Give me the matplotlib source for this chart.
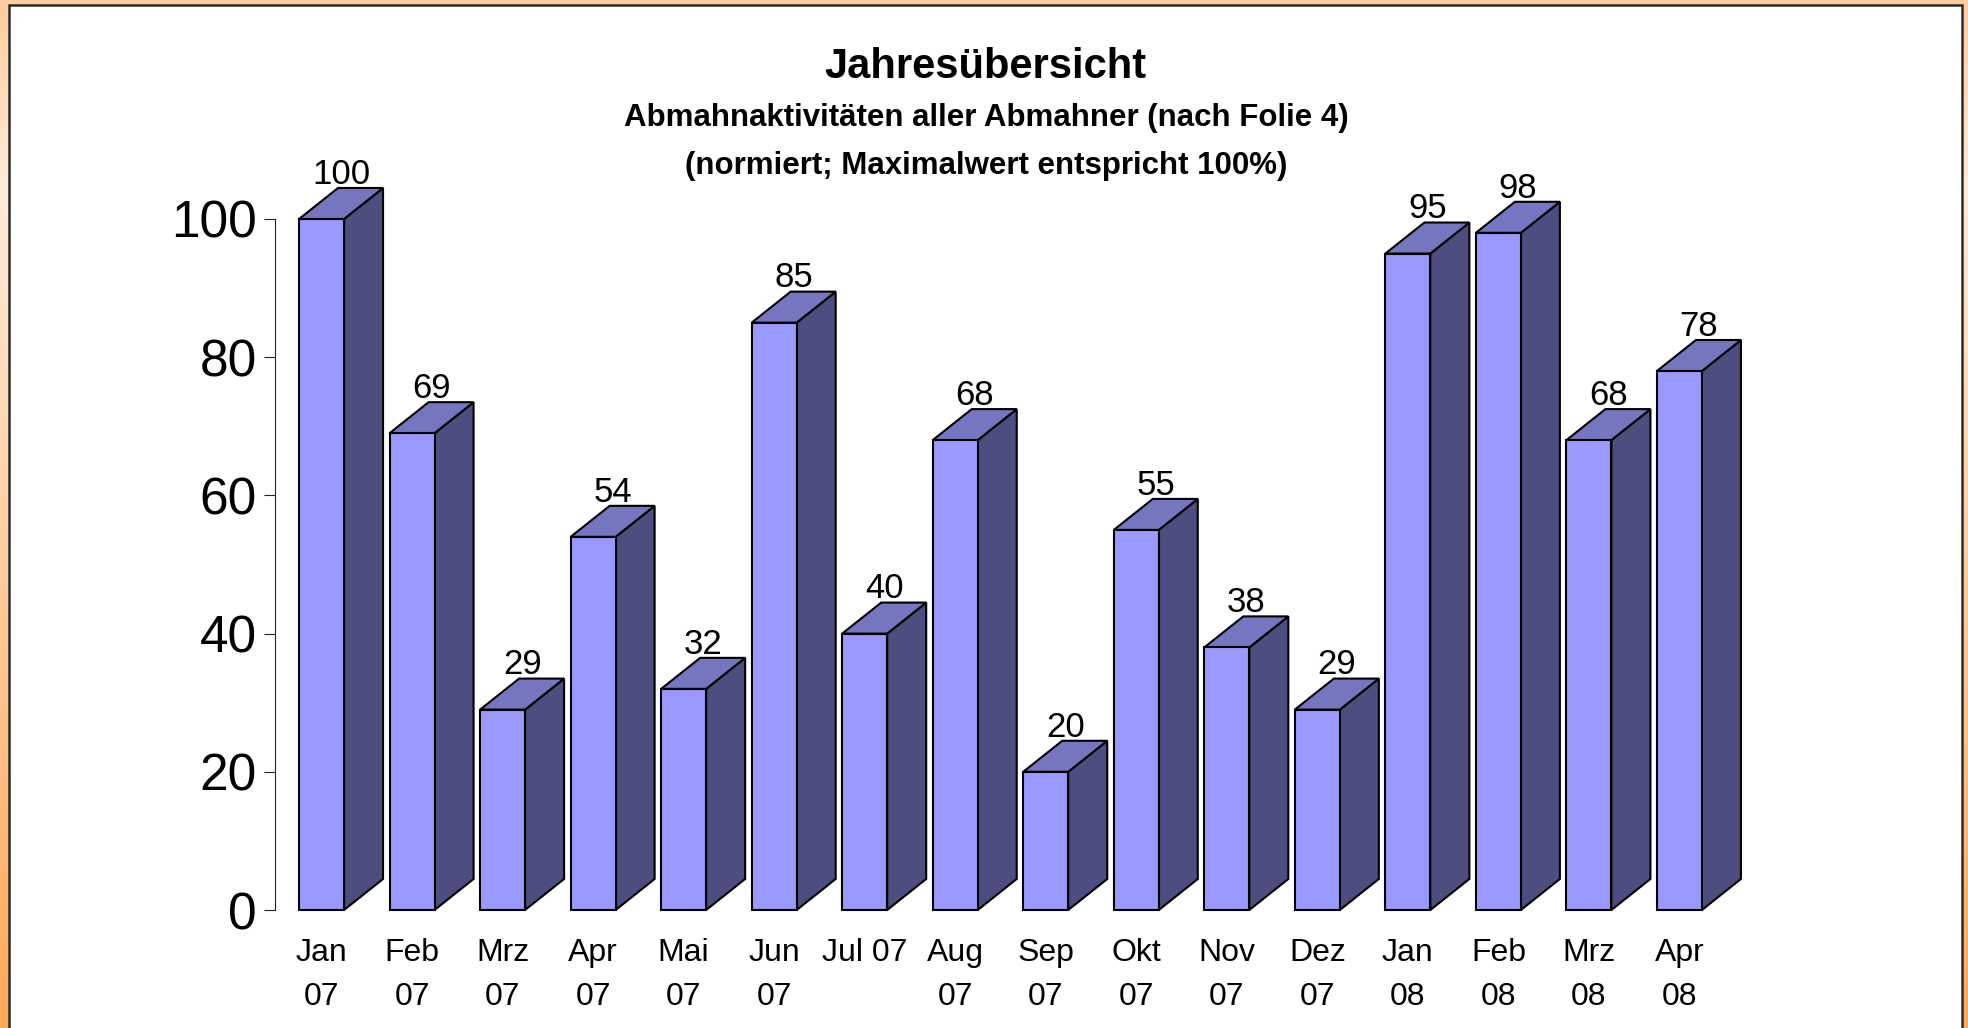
import matplotlib
matplotlib.use("Agg")
import matplotlib.pyplot as plt
import numpy as np
from matplotlib.patches import Polygon, Rectangle

plt.rcParams['font.family'] = ['Liberation Sans', 'DejaVu Sans']

categories = ["Jan\n07", "Feb\n07", "Mrz\n07", "Apr\n07", "Mai\n07", "Jun\n07", "Jul 07",
              "Aug\n07", "Sep\n07", "Okt\n07", "Nov\n07", "Dez\n07", "Jan\n08", "Feb\n08",
              "Mrz\n08", "Apr\n08"]
values = [100, 69, 29, 54, 32, 85, 40, 68, 20, 55, 38, 29, 95, 98, 68, 78]
yticks = [0, 20, 40, 60, 80, 100]

title = "Jahresübersicht"
subtitle = "Abmahnaktivitäten aller Abmahner (nach Folie 4)\n(normiert; Maximalwert entspricht 100%)"

W, H = 1968, 1028
fig = plt.figure(figsize=(W / 100, H / 100), dpi=100)

# background gradient border
bg = fig.add_axes([0, 0, 1, 1])
ys = np.linspace(0, 1, 200)
c_top = np.array([1.0, 0.80, 0.62])
c_light = np.array([1.0, 0.92, 0.85])
c_bot = np.array([1.0, 0.66, 0.35])
grad = np.zeros((200, 1, 3))
for k, t in enumerate(ys):
    if t < 0.18:
        s = t / 0.18
        col = c_top * (1 - s) + c_light * s
    else:
        s = (t - 0.18) / 0.82
        col = c_light * (1 - s) + c_bot * s
    grad[k, 0] = col
bg.imshow(grad, aspect='auto', extent=[0, 1, 1, 0])
bg.set_xlim(0, 1)
bg.set_ylim(1, 0)
bg.axis('off')
panel = Rectangle((9 / W, -0.1), (1962 - 9) / W, 1.1 - 5 / H, transform=bg.transAxes,
                  facecolor='white', edgecolor='#2b2b2b', linewidth=1.8)
bg.add_patch(panel)

# main axes
x0, x1 = 275, 1760
y0, y1 = 910, 219
ax = fig.add_axes([x0 / W, (H - y0) / H, (x1 - x0) / W, (y0 - y1) / H])
ax.set_facecolor('none')
ax.set_ylim(0, 100)
ax.set_xlim(-0.514, 15.89)

w = 0.497
dx = 0.431
dy = 4.49
front_c = '#9999FF'
top_c = '#7575C0'
side_c = '#4D4D80'
lw = 1.5

for i, v in enumerate(values):
    xl, xr = i - w / 2, i + w / 2
    side = Polygon([(xr, 0), (xr + dx, dy), (xr + dx, v + dy), (xr, v)], closed=True,
                   facecolor=side_c, edgecolor='black', linewidth=lw, clip_on=False, zorder=2)
    top = Polygon([(xl, v), (xl + dx, v + dy), (xr + dx, v + dy), (xr, v)], closed=True,
                  facecolor=top_c, edgecolor='black', linewidth=lw, clip_on=False, zorder=2)
    front = Rectangle((xl, 0), w, v, facecolor=front_c, edgecolor='black', linewidth=lw,
                      clip_on=False, zorder=3)
    ax.add_patch(side)
    ax.add_patch(top)
    ax.add_patch(front)
    ax.annotate(str(v), (i + dx / 2, v + dy), xytext=(0, -2), textcoords='offset points',
                ha='center', va='bottom', fontsize=25, color='black', annotation_clip=False)

for s in ['top', 'right', 'bottom']:
    ax.spines[s].set_visible(False)
ax.spines['left'].set_linewidth(0.8)
ax.spines['left'].set_color('#222222')
ax.set_yticks(yticks)
ax.set_yticklabels([str(t) for t in yticks])
ax.tick_params(axis='y', direction='out', length=8, width=0.8, color='#222222',
               labelsize=37, pad=5)
ax.set_xticks(range(len(categories)))
ax.set_xticklabels(categories, linespacing=1.62)
ax.tick_params(axis='x', length=0, labelsize=23, pad=20)

fig.text(0.501, (H - 67) / H, title, ha='center', va='center', fontsize=30, fontweight='bold')
fig.text(0.501, (H - 142) / H, subtitle, ha='center', va='center', fontsize=22.5,
         fontweight='bold', linespacing=1.82)

fig.savefig('out.png', dpi=100)
